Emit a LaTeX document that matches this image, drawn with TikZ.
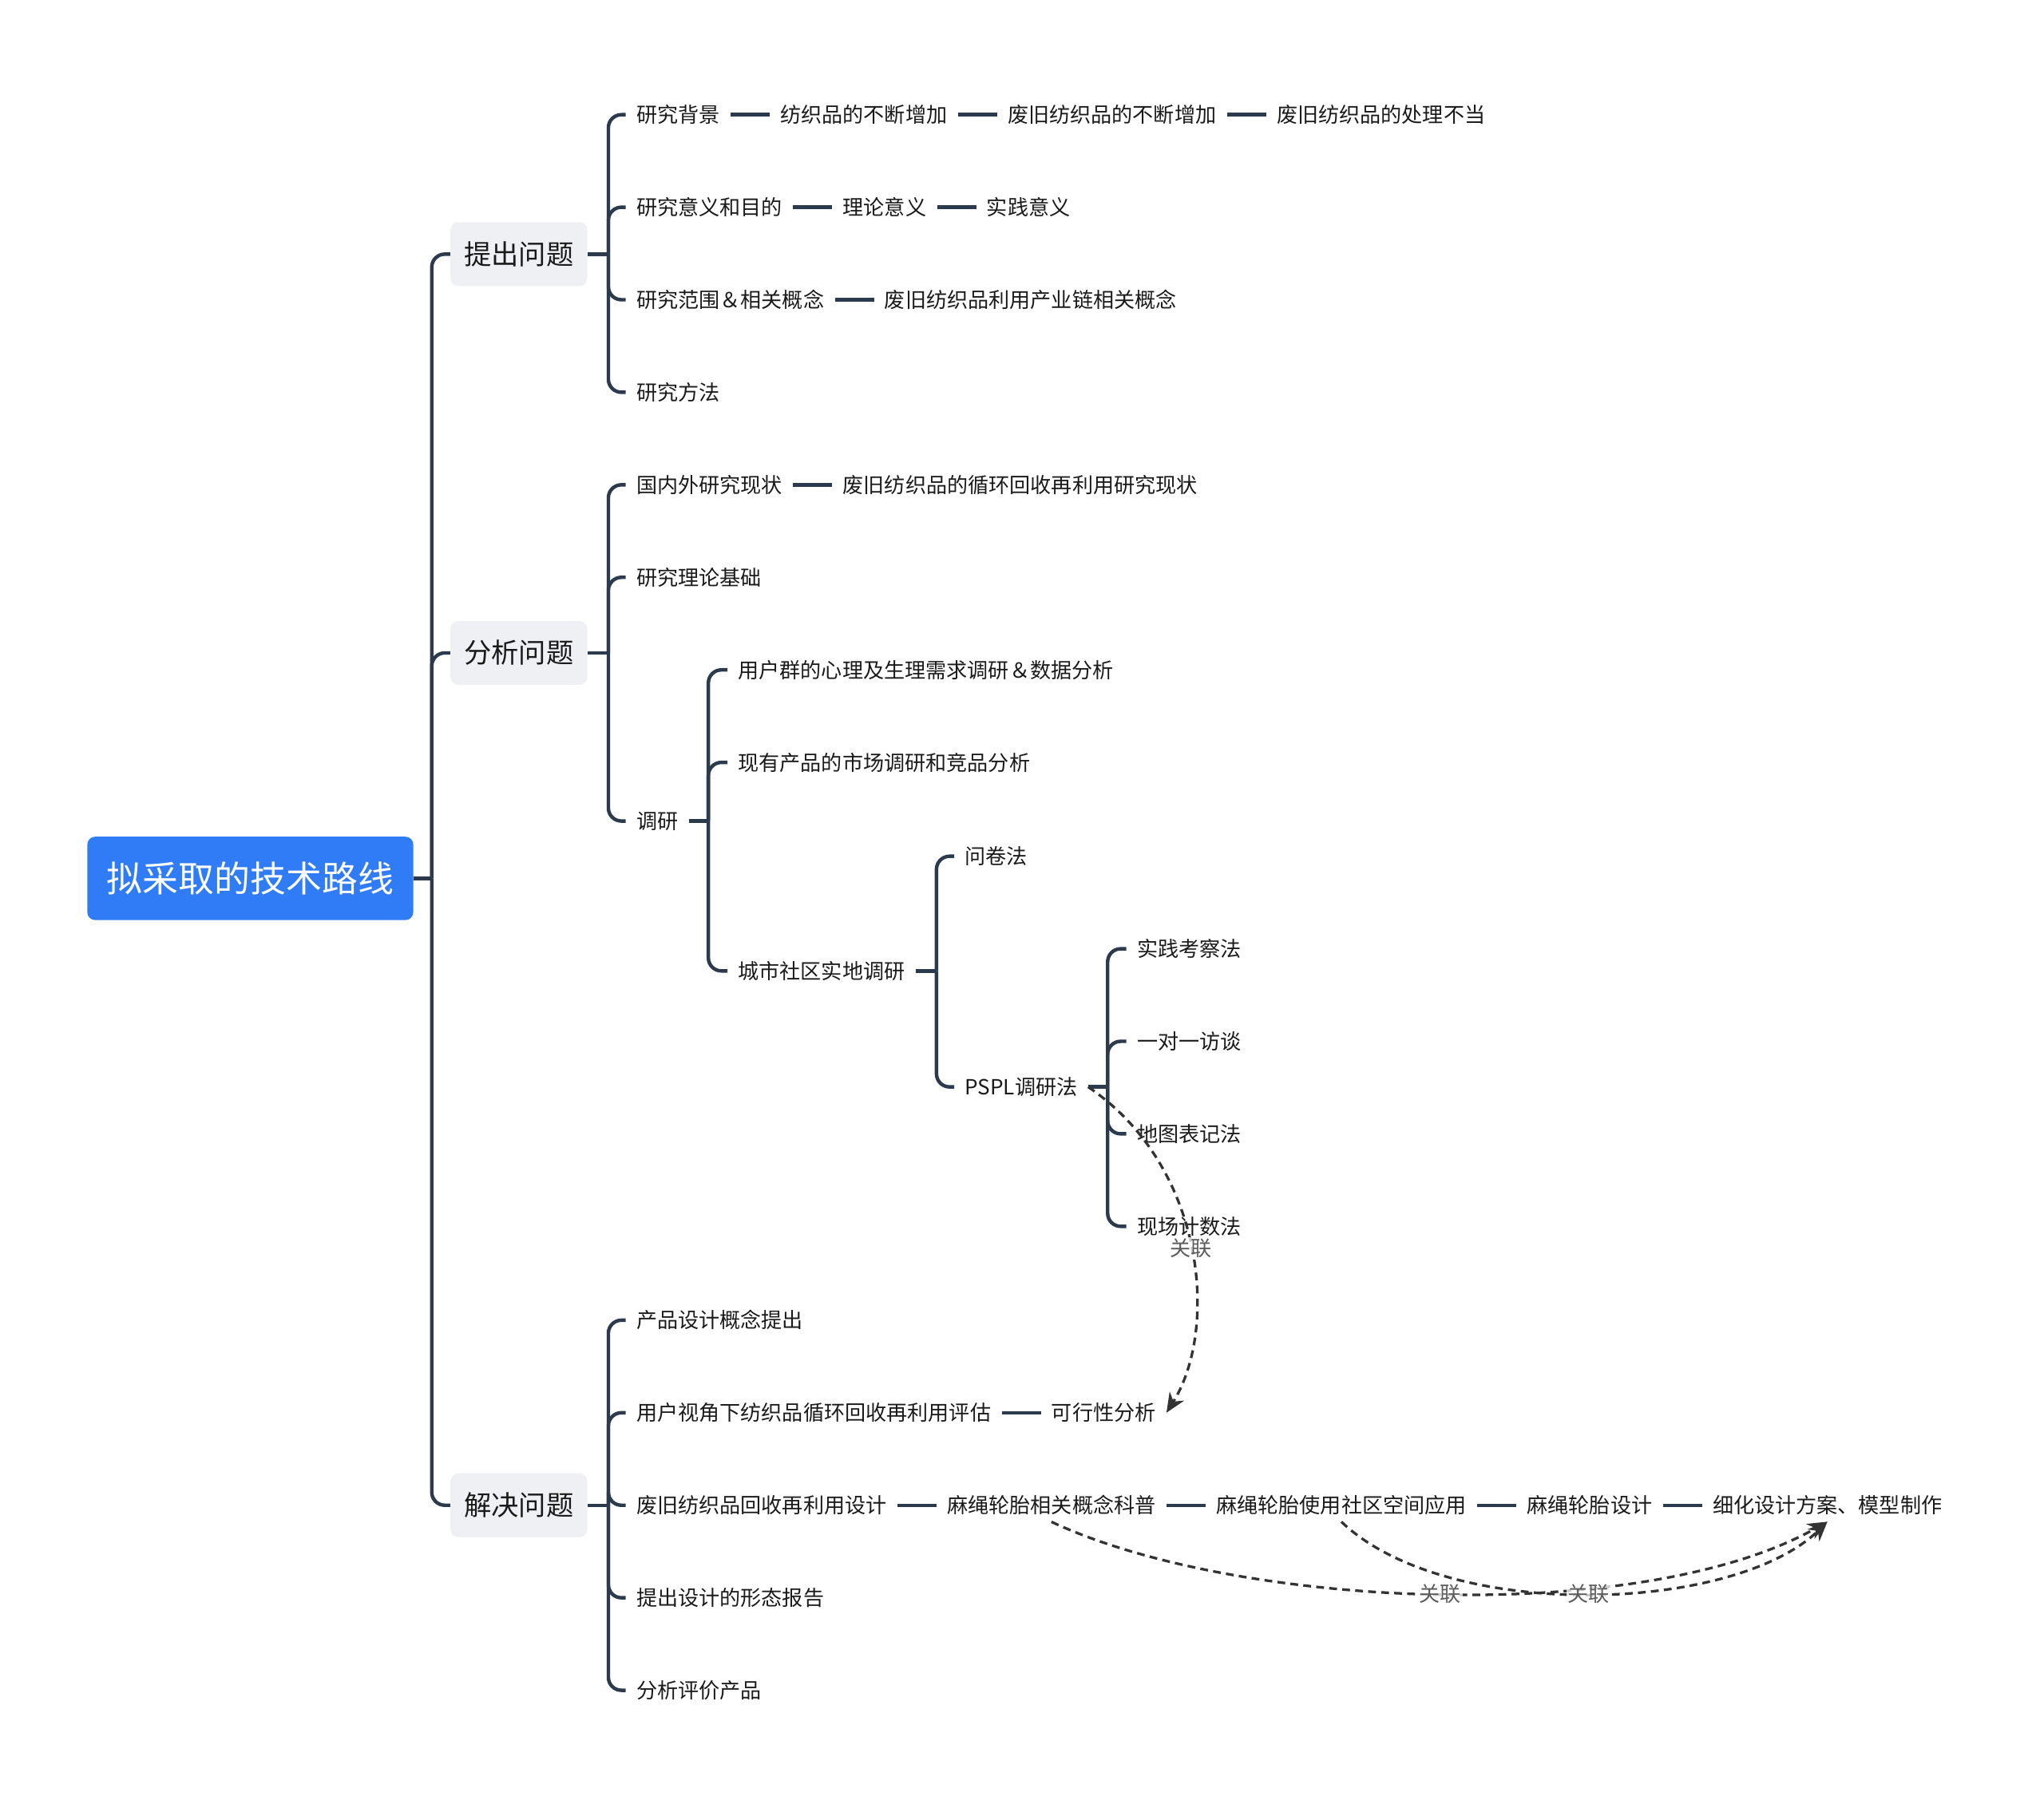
\documentclass[tikz,border=0pt]{standalone}
\usepackage{fontspec}
\setmainfont{Noto Sans CJK SC}
\usetikzlibrary{positioning,arrows.meta}
\definecolor{rootblue}{HTML}{2F7CF6}
\definecolor{topicgray}{HTML}{EEF0F3}
\definecolor{linecol}{HTML}{2C3A4D}
\definecolor{relcol}{HTML}{333333}
\definecolor{textcol}{HTML}{1A1A1A}

\begin{document}
\begin{tikzpicture}
  [x=1pt,y=-1pt,
   rootbox/.style={fill=rootblue,text=white,rounded corners=6pt,inner xsep=15pt,minimum height=64pt,font=\fontsize{27.5pt}{28pt}\selectfont},
   topicbox/.style={fill=topicgray,text=textcol,rounded corners=6pt,inner xsep=10.5pt,minimum height=49pt,font=\fontsize{21pt}{22pt}\selectfont},
   leaf/.style={text=textcol,inner xsep=8pt,inner ysep=5pt,font=\fontsize{16pt}{17pt}\selectfont},
   chain/.style={leaf,right=30pt of #1},
   link/.style={draw=linecol,line width=2.7pt,rounded corners=10pt},
   rel/.style={draw=relcol,line width=2pt,dash pattern=on 6pt off 4pt,-{Stealth[length=15pt,width=13pt]}},
   rellabel/.style={text=relcol!80,fill=white,fill opacity=.75,text opacity=1,inner sep=1pt,font=\fontsize{16pt}{17pt}\selectfont}]

  \useasboundingbox (0,0) rectangle (1568,1384);

  \node[rootbox] (root) at (192,674) {拟采取的技术路线};
  \node[topicbox] (t1) at (398,195)  {提出问题};
  \node[topicbox] (t2) at (398,501)  {分析问题};
  \node[topicbox] (t3) at (398,1155) {解决问题};

  % 提出问题
  \node[leaf,anchor=west] (bg) at (480,88) {研究背景};
  \node[chain=bg]  (bg1) {纺织品的不断增加};
  \node[chain=bg1] (bg2) {废旧纺织品的不断增加};
  \node[chain=bg2] (bg3) {废旧纺织品的处理不当};
  \node[leaf,anchor=west] (yy) at (480,159) {研究意义和目的};
  \node[chain=yy]  (yy1) {理论意义};
  \node[chain=yy1] (yy2) {实践意义};
  \node[leaf,anchor=west] (fw) at (480,230) {研究范围＆相关概念};
  \node[chain=fw]  (fw1) {废旧纺织品利用产业链相关概念};
  \node[leaf,anchor=west] (ff) at (480,301) {研究方法};

  % 分析问题
  \node[leaf,anchor=west] (gn) at (480,372) {国内外研究现状};
  \node[chain=gn]  (gn1) {废旧纺织品的循环回收再利用研究现状};
  \node[leaf,anchor=west] (ll) at (480,443) {研究理论基础};
  \node[leaf,anchor=west] (dy) at (480,630) {调研};
  \node[leaf,anchor=west] (dy1) at (558,514) {用户群的心理及生理需求调研＆数据分析};
  \node[leaf,anchor=west] (dy2) at (558,585) {现有产品的市场调研和竞品分析};
  \node[leaf,anchor=west] (sq) at (558,745) {城市社区实地调研};
  \node[leaf,anchor=west] (wj) at (732,657) {问卷法};
  \node[leaf,anchor=west] (pspl) at (732,834) {PSPL调研法};
  \node[leaf,anchor=west] (p1) at (864,728) {实践考察法};
  \node[leaf,anchor=west] (p2) at (864,799) {一对一访谈};
  \node[leaf,anchor=west] (p3) at (864,870) {地图表记法};
  \node[leaf,anchor=west] (p4) at (864,941) {现场计数法};

  % 解决问题
  \node[leaf,anchor=west] (cp) at (480,1013) {产品设计概念提出};
  \node[leaf,anchor=west] (pg) at (480,1084) {用户视角下纺织品循环回收再利用评估};
  \node[chain=pg]  (kx) {可行性分析};
  \node[leaf,anchor=west] (sj) at (480,1155) {废旧纺织品回收再利用设计};
  \node[chain=sj]  (sj1) {麻绳轮胎相关概念科普};
  \node[chain=sj1] (sj2) {麻绳轮胎使用社区空间应用};
  \node[chain=sj2] (sj3) {麻绳轮胎设计};
  \node[chain=sj3] (sj4) {细化设计方案、模型制作};
  \node[leaf,anchor=west] (xt) at (480,1226) {提出设计的形态报告};
  \node[leaf,anchor=west] (pj) at (480,1297) {分析评价产品};

  % tree lines
  \draw[link] (root.east) -- ++(14,0) coordinate (trunk);
  \foreach \t in {t1,t2,t3}
    \draw[link] (trunk) |- (\t.west);

  \draw[link] (t1.east) -- ++(16,0) coordinate (j1);
  \foreach \c in {bg,yy,fw,ff}
    \draw[link] (j1) |- (\c.west);
  \draw[link] (t2.east) -- ++(16,0) coordinate (j2);
  \foreach \c in {gn,ll,dy}
    \draw[link] (j2) |- (\c.west);
  \draw[link] (dy.east) -- ++(15,0) coordinate (j3);
  \foreach \c in {dy1,dy2,sq}
    \draw[link] (j3) |- (\c.west);
  \draw[link] (sq.east) -- ++(16,0) coordinate (j4);
  \foreach \c in {wj,pspl}
    \draw[link] (j4) |- (\c.west);
  \draw[link] (pspl.east) -- ++(15,0) coordinate (j5);
  \foreach \c in {p1,p2,p3,p4}
    \draw[link] (j5) |- (\c.west);
  \draw[link] (t3.east) -- ++(16,0) coordinate (j6);
  \foreach \c in {cp,pg,sj,xt,pj}
    \draw[link] (j6) |- (\c.west);

  \foreach \from/\to in {bg/bg1,bg1/bg2,bg2/bg3,yy/yy1,yy1/yy2,fw/fw1,gn/gn1,pg/kx,sj/sj1,sj1/sj2,sj2/sj3,sj3/sj4}
    \draw[link] (\from) -- (\to);

  % relations
  \draw[rel] (pspl.east) .. controls (925,895) and (935,1020) .. (kx.east)
    node[rellabel,pos=.5] {关联};
  \draw[rel] (sj1.south) .. controls (950,1235) and (1260,1248) .. (sj4.south)
    node[rellabel,pos=.5] {关联};
  \draw[rel] (sj2.south) .. controls (1110,1245) and (1330,1238) .. (sj4.south)
    node[rellabel,pos=.5] {关联};

\end{tikzpicture}
\end{document}
